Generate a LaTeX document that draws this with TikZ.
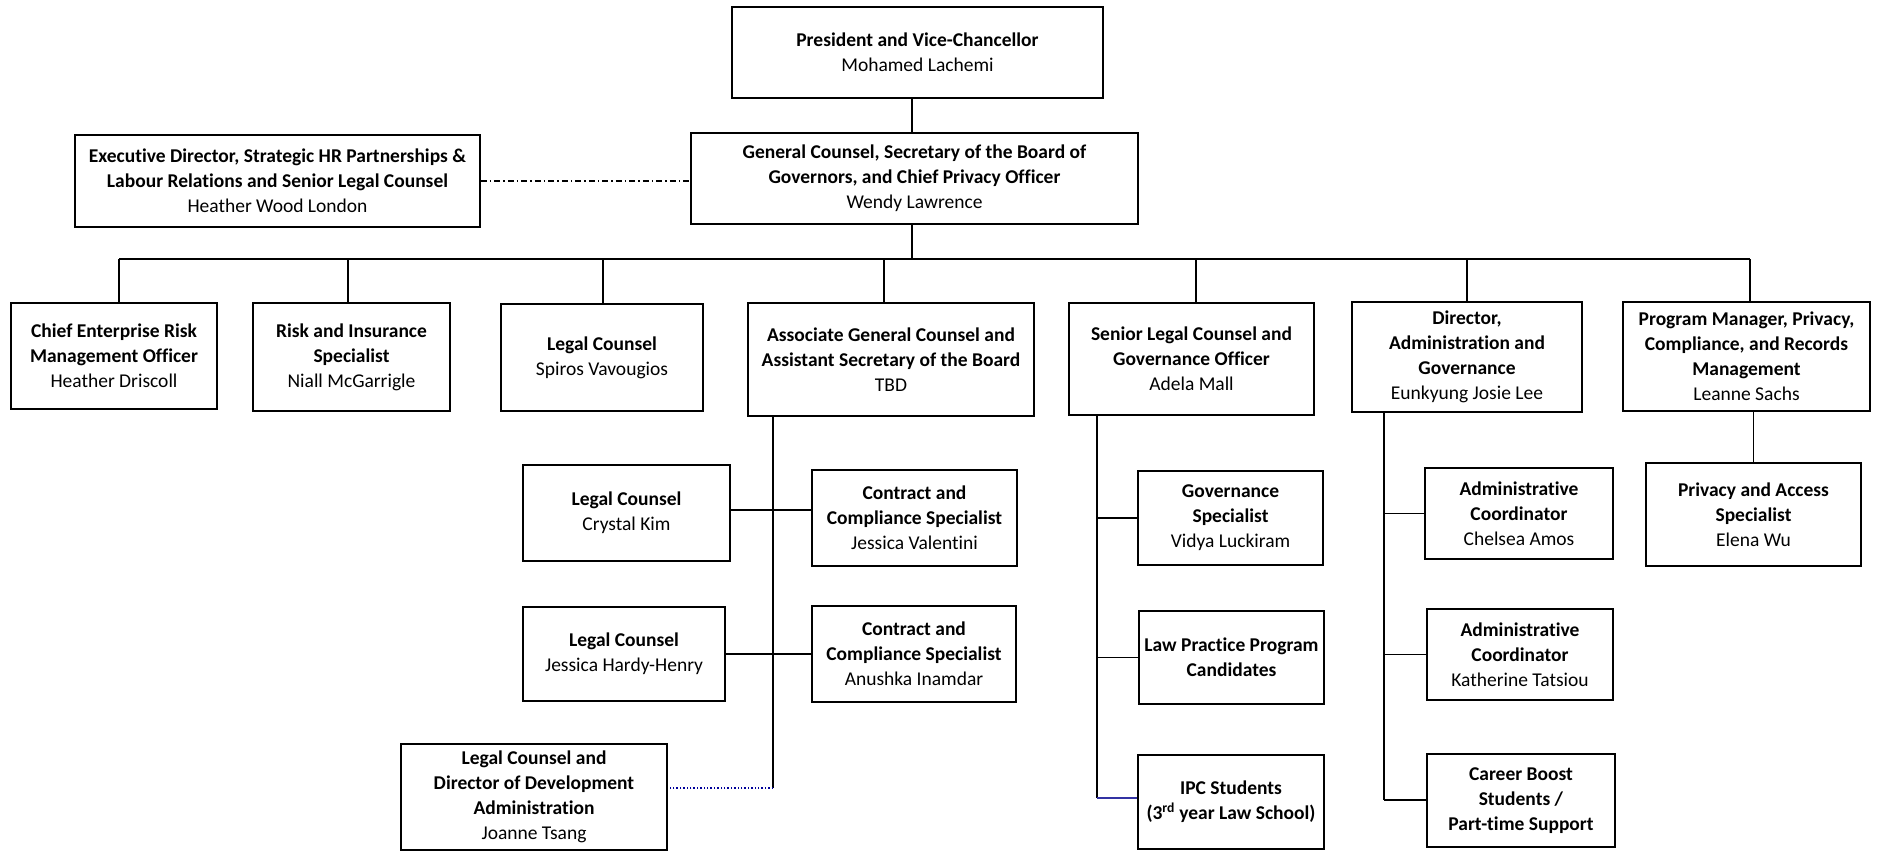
\documentclass[tikz,border=0pt]{standalone}
\usepackage{fontspec}
\setmainfont[Ligatures={NoCommon}]{Carlito}
\begin{document}
\begin{tikzpicture}[x=1pt,y=-1pt,
  box/.style={draw=black,line width=1.6pt,fill=white,align=center,inner sep=2pt,
    font=\fontsize{19.5}{25}\selectfont},
  conn/.style={draw=black,line width=1.2pt},
  dashdot/.style={draw=black,line width=1.2pt,dash pattern=on 6pt off 3pt on 1.5pt off 3pt},
  dotblue/.style={draw=blue!60!black,line width=1.4pt,dotted},
  blueconn/.style={draw=blue!55!black!80,line width=1.4pt}]
\useasboundingbox (0,0) rectangle (1877,851);
\fill[white] (0,0) rectangle (1877,851);

\def\bx#1#2#3#4#5#6{\node[box,minimum width=#4,minimum height=#5] (#1) at (#2,#3) {#6};}

\bx{pres}{917.5}{52.5}{371}{91}{\textbf{President and Vice-Chancellor}\\Mohamed Lachemi}
\bx{gc}{914.5}{178.5}{447}{91}{\textbf{General Counsel, Secretary of the Board of}\\\textbf{Governors, and Chief Privacy Officer}\\Wendy Lawrence}
\bx{exec}{277.5}{181}{405}{92}{\textbf{Executive Director, Strategic HR Partnerships \&}\\\textbf{Labour Relations and Senior Legal Counsel}\\Heather Wood London}

\bx{cerm}{114}{356}{206}{106}{\textbf{Chief Enterprise Risk}\\\textbf{Management Officer}\\Heather Driscoll}
\bx{risk}{351.5}{357}{197}{108}{\textbf{Risk and Insurance}\\\textbf{Specialist}\\Niall McGarrigle}
\bx{lcone}{602}{357.5}{202}{107}{\textbf{Legal Counsel}\\Spiros Vavougios}
\bx{agc}{891}{359.5}{286}{113}{\textbf{Associate General Counsel and}\\\textbf{Assistant Secretary of the Board}\\TBD}
\bx{slc}{1191.5}{359}{245}{112}{\textbf{Senior Legal Counsel and}\\\textbf{Governance Officer}\\Adela Mall}
\bx{dir}{1467}{357}{230}{110}{\textbf{Director,}\\\textbf{Administration and}\\\textbf{Governance}\\Eunkyung Josie Lee}
\bx{pm}{1746.5}{356.5}{247}{109}{\textbf{Program Manager, Privacy,}\\\textbf{Compliance, and Records}\\\textbf{Management}\\Leanne Sachs}

\bx{crystal}{626.5}{513}{207}{96}{\textbf{Legal Counsel}\\Crystal Kim}
\bx{ccone}{914.5}{518}{205}{96}{\textbf{Contract and}\\\textbf{Compliance Specialist}\\Jessica Valentini}
\bx{jhh}{624}{654}{202}{94}{\textbf{Legal Counsel}\\Jessica Hardy-Henry}
\bx{cctwo}{914}{654}{204}{96}{\textbf{Contract and}\\\textbf{Compliance Specialist}\\Anushka Inamdar}
\bx{joanne}{534}{797}{266}{106}{\textbf{Legal Counsel and}\\\textbf{Director of Development}\\\textbf{Administration}\\Joanne Tsang}

\bx{gov}{1230.5}{518}{185}{94}{\textbf{Governance}\\\textbf{Specialist}\\Vidya Luckiram}
\bx{lpp}{1231.5}{657.5}{185}{93}{\textbf{Law Practice Program}\\\textbf{Candidates}}
\bx{ipc}{1231}{802}{186}{94}{\textbf{IPC Students}\\\textbf{(3\textsuperscript{rd} year Law School)}}

\bx{acone}{1519}{513.5}{188}{91}{\textbf{Administrative}\\\textbf{Coordinator}\\Chelsea Amos}
\bx{actwo}{1520}{654.5}{186}{91}{\textbf{Administrative}\\\textbf{Coordinator}\\Katherine Tatsiou}
\bx{cb}{1521}{800.5}{188}{93}{\textbf{Career Boost}\\\textbf{Students /}\\\textbf{Part-time Support}}

\bx{pa}{1753.5}{514.5}{215}{103}{\textbf{Privacy and Access}\\\textbf{Specialist}\\Elena Wu}

% top connectors
\coordinate (bus) at (0,259);
\draw[conn] (pres.south -| 912,0) -- (gc.north -| 912,0);
\draw[conn] (gc.south -| 912,0) -- (bus -| 912,0);
\draw[conn] (bus -| 119,0) -- (bus -| 1750,0);
\foreach \n/\xx in {cerm/119,risk/348,lcone/603,agc/884,slc/1196,dir/1467,pm/1750}
  \draw[conn] (\n.north -| \xx,0) -- (bus -| \xx,0);
\draw[dashdot] (exec.east) -- (exec.east -| gc.west);

% associate GC branch
\coordinate (agcend) at (773,788);
\draw[conn] (agcend |- agc.south) -- (agcend);
\draw[conn] (crystal.east |- 0,510) -- (ccone.west |- 0,510);
\draw[conn] (jhh.east) -- (jhh.east -| cctwo.west);
\draw[dotblue] (agcend) -- (agcend -| joanne.east);

% senior legal branch
\coordinate (slcend) at (1097,798);
\draw[conn] (slcend |- slc.south) -- (slcend);
\draw[conn] (gov.west -| slcend) -- (gov.west);
\draw[conn] (lpp.west -| slcend) -- (lpp.west);
\draw[blueconn] (slcend) -- (slcend -| ipc.west);

% director branch
\coordinate (dirend) at (1384,800);
\draw[conn] (dirend |- dir.south) -- (dirend);
\draw[conn] (acone.west -| dirend) -- (acone.west);
\draw[conn] (actwo.west -| dirend) -- (actwo.west);
\draw[conn] (dirend) -- (dirend -| cb.west);

% program manager
\draw[conn] (pm.south -| pa.north) -- (pa.north);
\end{tikzpicture}
\end{document}
